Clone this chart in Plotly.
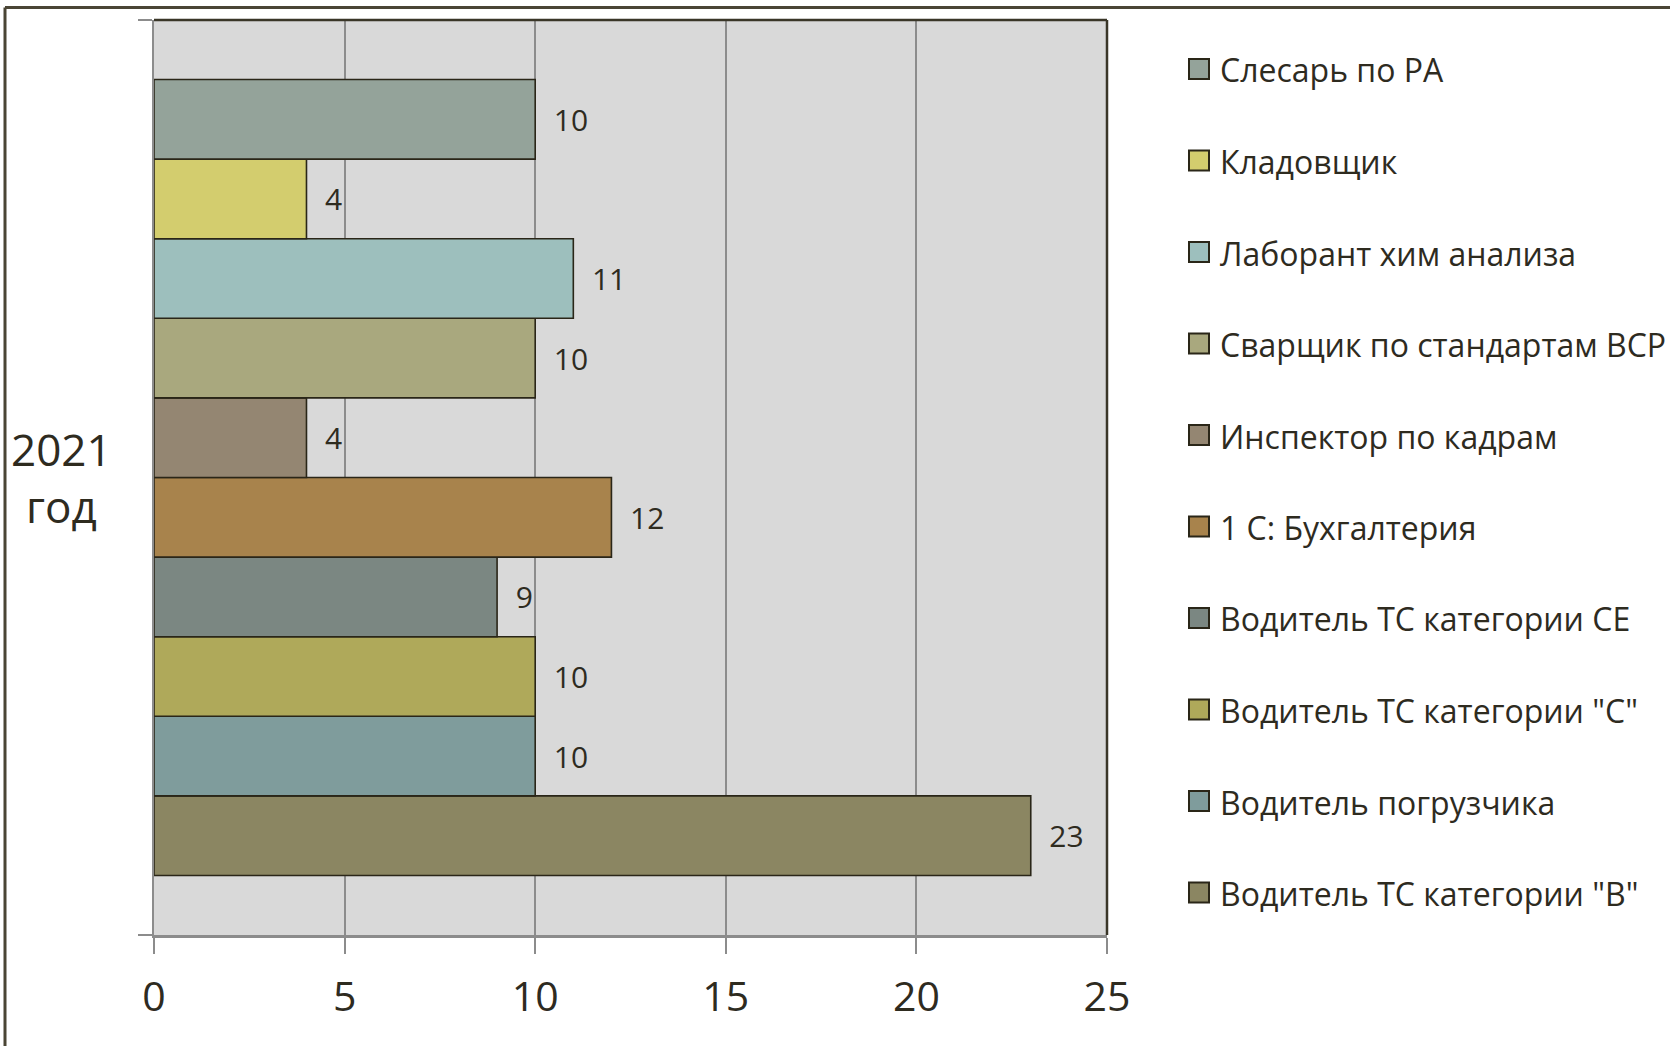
import plotly.graph_objects as go

# ---- data (bottom -> top as drawn) ----
category = "2021 год"
series_names = [
    'Водитель ТС категории "В"',
    'Водитель погрузчика',
    'Водитель ТС категории "С"',
    'Водитель ТС категории СЕ',
    '1 С: Бухгалтерия',
    'Инспектор по кадрам',
    'Сварщик по стандартам ВСР',
    'Лаборант хим анализа',
    'Кладовщик',
    'Слесарь по РА',
]
series_values = [23, 10, 10, 9, 12, 4, 10, 11, 4, 10]
series_colors = [
    "#8B8662", "#7F9C9C", "#AFA95A", "#7B8782", "#A8834C",
    "#948672", "#A9A87E", "#9DBFBD", "#D3CD6E", "#94A39A",
]
x_ticks = [0, 5, 10, 15, 20, 25]

W, H = 1670, 1046
L, R, T, B = 154, 1107, 20, 935
FONT = "Open Sans"
TXT = "#2E2B1F"
EDGE = "#2A2618"

def px_x(px):
    return (px - L) / (R - L)

def px_y(py):
    return (B - py) / (B - T)

fig = go.Figure()
for name, val, col in zip(series_names, series_values, series_colors):
    fig.add_trace(go.Bar(
        y=[category], x=[val], name=name, orientation="h",
        marker=dict(color=col, line=dict(color=EDGE, width=1.6)),
        text=[val], texttemplate="\u00a0\u00a0%{x}", textposition="outside",
        textfont=dict(family=FONT, size=30, color=TXT),
        cliponaxis=False, showlegend=False,
    ))

shapes = [
    # top and right dark borders of plot area
    dict(type="line", xref="x domain", yref="y domain", x0=0, x1=1, y0=1, y1=1,
         line=dict(color="#3A3628", width=2.5), layer="above"),
    dict(type="line", xref="x domain", yref="y domain", x0=1, x1=1, y0=0, y1=1,
         line=dict(color="#3A3628", width=2.5), layer="above"),
    # outer slide frame
    dict(type="line", xref="paper", yref="paper", x0=px_x(5), x1=px_x(5),
         y0=px_y(7.5), y1=px_y(1100), line=dict(color="#4A4535", width=3)),
    dict(type="line", xref="paper", yref="paper", x0=px_x(5), x1=px_x(1700),
         y0=px_y(7.5), y1=px_y(7.5), line=dict(color="#4A4535", width=3)),
]

annotations = [
    dict(xref="paper", yref="y", x=px_x(61), y=category, text=category.replace(" ", "<br>"),
         showarrow=False, align="center", xanchor="center", yanchor="middle",
         font=dict(family=FONT, size=44, color=TXT)),
]

# legend (top item = last drawn series, i.e. top bar)
leg_x0, leg_y0, leg_step, sw = 1189, 69, 91.5, 20
for i, (name, col) in enumerate(zip(reversed(series_names), reversed(series_colors))):
    cy = leg_y0 + i * leg_step
    shapes.append(dict(type="rect", xref="paper", yref="paper",
                       x0=px_x(leg_x0), x1=px_x(leg_x0 + sw),
                       y0=px_y(cy - sw / 2), y1=px_y(cy + sw / 2),
                       fillcolor=col, line=dict(color=EDGE, width=2)))
    annotations.append(dict(xref="paper", yref="paper", x=px_x(leg_x0 + sw + 9), y=px_y(cy + 1),
                            text=name, showarrow=False, xanchor="left", yanchor="middle",
                            font=dict(family=FONT, size=32, color=TXT)))

fig.update_layout(
    width=W, height=H,
    margin=dict(l=L, r=W - R, t=T, b=H - B),
    paper_bgcolor="white", plot_bgcolor="#D9D9D9",
    barmode="group", bargap=0.13, bargroupgap=0,
    showlegend=False,
    xaxis=dict(
        range=[0, 25], tickvals=x_ticks, ticktext=[str(v) for v in x_ticks],
        showgrid=True, gridcolor="#8C8C8C", gridwidth=1.5,
        showline=True, linecolor="#8C8C8C", linewidth=2.5,
        ticks="outside", ticklen=16, tickcolor="#8C8C8C", tickwidth=1.5,
        ticklabelstandoff=8, zeroline=False,
        tickfont=dict(family=FONT, size=41, color=TXT),
    ),
    yaxis=dict(
        type="category", showgrid=False, showline=True, linecolor="#8C8C8C", linewidth=2,
        ticks="outside", tickson="boundaries", ticklen=14, tickcolor="#8C8C8C", tickwidth=2,
        showticklabels=False,
    ),
    shapes=shapes, annotations=annotations,
)

fig.write_html("out.html", config={"displayModeBar": False},
               post_script="document.body.style.margin='0px';document.body.style.overflow='hidden';")
